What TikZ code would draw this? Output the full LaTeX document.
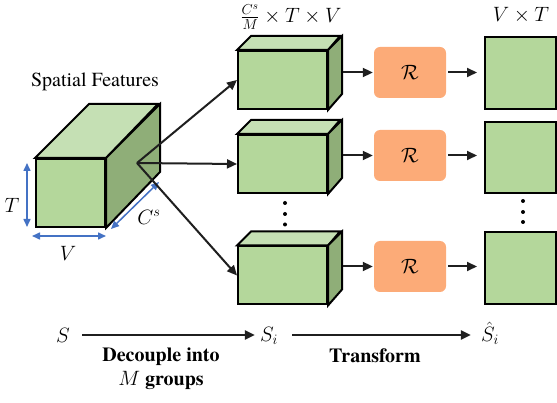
\documentclass[tikz,border=0pt]{standalone}
\usepackage{fontspec}
\setmainfont{texgyretermes}[Extension=.otf, UprightFont=*-regular, BoldFont=*-bold, ItalicFont=*-italic, BoldItalicFont=*-bolditalic]
\usetikzlibrary{arrows.meta}
\definecolor{gfront}{HTML}{B4D79B}
\definecolor{gtop}{HTML}{C5E0B4}
\definecolor{gside}{HTML}{8FAE78}
\definecolor{rorange}{HTML}{FCAB78}
\definecolor{dimblue}{HTML}{4472C4}
\tikzset{
  front/.style={draw=black, fill=gfront, line width=2pt, inner sep=0pt, line join=miter},
  topf/.style={draw=black, fill=gtop, line width=2pt, line join=miter},
  sidef/.style={draw=black, fill=gside, line width=2pt, line join=miter},
  rbox/.style={fill=rorange, rounded corners=6pt, minimum width=72pt, minimum height=51pt, inner sep=0pt},
  arr/.style={draw=black!88, line width=2pt, -{Triangle[length=10pt,width=9pt]}},
  dim/.style={draw=dimblue, line width=1.5pt, {Triangle[length=8pt,width=7pt]}-{Triangle[length=8pt,width=7pt]}},
  lbl/.style={font=\fontsize{20}{24}\selectfont, inner sep=0pt},
  mlbl/.style={font=\fontsize{22}{26}\selectfont, inner sep=0pt},
  blbl/.style={font=\fontsize{20}{24}\selectfont\bfseries, inner sep=0pt, align=center},
  dot/.style={circle, fill=black, inner sep=0pt, minimum size=4pt},
}
\begin{document}
\begin{tikzpicture}[x=1pt,y=-1pt]
\useasboundingbox (0,0) rectangle (557,403);
% big cube
\node[front, minimum width=69pt, minimum height=68pt] (big) at (70.5,193) {};
\draw[topf] (big.north west) -- ++(54,-54) -- ++(69,0) -- (big.north east) -- cycle;
\draw[sidef] (big.north east) -- ++(54,-54) -- ++(0,68) -- (big.south east) -- cycle;
\node[lbl] (sf) at (95,82) {Spatial Features};
% dimensions
\coordinate (t1) at (27,163);
\coordinate (t2) at (27,227);
\draw[dim] (t1) -- (t2);
\node[mlbl] (tl) at (12,205) {$T$};
\coordinate (v1) at (32,236);
\coordinate (v2) at (106,236);
\draw[dim] (v1) -- (v2);
\node[mlbl] (vl) at (68,253) {$V$};
\coordinate (c1a) at (111,229);
\coordinate (c1b) at (159,182);
\draw[dim] (c1a) -- (c1b);
\node[mlbl] (cl) at (149,217) {$C^s$};
% small cubes
\foreach \n/\y in {1/80,2/164,3/275.5}{
  \node[front, minimum width=89pt, minimum height=58pt] (c\n) at (282.5,\y) {};
  \draw[topf] (c\n.north west) -- ++(14,-14) -- ++(89,0) -- (c\n.north east) -- cycle;
  \draw[sidef] (c\n.north east) -- ++(14,-14) -- ++(0,58) -- (c\n.south east) -- cycle;
}
% R boxes
\node[rbox, mlbl] (R1) at (410,72.5) {$\mathcal{R}$};
\node[rbox, mlbl] (R2) at (410,155.5) {$\mathcal{R}$};
\node[rbox, mlbl] (R3) at (410,266.5) {$\mathcal{R}$};
% squares
\node[front, minimum width=71pt, minimum height=72pt] (q1) at (520.5,73) {};
\node[front, minimum width=71pt, minimum height=71pt] (q2) at (520.5,157.5) {};
\node[front, minimum width=71pt, minimum height=72pt] (q3) at (520.5,268.5) {};
% decouple arrows
\coordinate (o) at (137,163);
\draw[arr] (o) -- (c1.west);
\draw[arr] (o) -- (c2.west);
\draw[arr] (o) -- (c3.west);
% row arrows
\foreach \n in {1,2,3}{
  \draw[arr, shorten <=15pt, shorten >=1pt] (R\n.west -| c\n.east) -- (R\n.west);
  \draw[arr, shorten <=2pt, shorten >=7pt] (R\n.east) -- (R\n.east -| q\n.west);
}
% dots
\node[dot] (da) at (285,203) {};
\node[dot] (db) at (285,214) {};
\node[dot] (dc) at (285,224.5) {};
\node[dot] (dd) at (523,201) {};
\node[dot] (de) at (523,212) {};
\node[dot] (df) at (523,222) {};
% top labels
\node[mlbl] (tl1) at (291,17) {$\frac{C^s}{M}\times T\times V$};
\node[mlbl] (tl2) at (521,15) {$V\times T$};
% bottom
\node[mlbl] (S) at (63,335) {$S$};
\node[mlbl] (Si) at (269,336) {$S_i$};
\node[mlbl] (Sh) at (490,333) {$\hat{S}_i$};
\draw[arr, shorten <=12pt, shorten >=5pt] (S) -- (Si.west |- S);
\draw[arr, shorten <=14pt, shorten >=10pt] (Si.east |- S) -- (Sh.west |- S);
\node[blbl] (dec) at (161,369) {Decouple into\\$M$ groups};
\node[blbl] (tr) at (375,356) {Transform};
\end{tikzpicture}
\end{document}
